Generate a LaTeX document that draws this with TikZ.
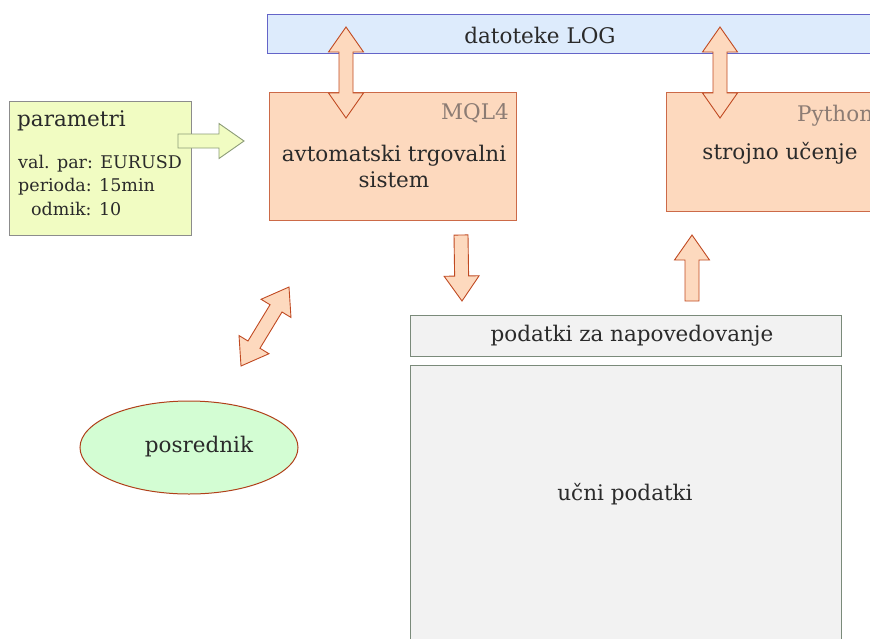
\documentclass[tikz,border=0pt]{standalone}
\usepackage{fontspec}
\setmainfont{DejaVu Serif}
\usetikzlibrary{calc,shapes.geometric}
\definecolor{logfill}{HTML}{DDEBFC}
\definecolor{logdraw}{HTML}{6464C8}
\definecolor{parfill}{HTML}{F1FCC2}
\definecolor{pardraw}{HTML}{8C8C8C}
\definecolor{parrdraw}{HTML}{8C9C78}
\definecolor{orfill}{HTML}{FDD9BE}
\definecolor{ordraw}{HTML}{CC6A48}
\definecolor{arrdraw}{HTML}{C04A22}
\definecolor{grfill}{HTML}{F2F2F2}
\definecolor{grdraw}{HTML}{7A8A7A}
\definecolor{elfill}{HTML}{D3FDD3}
\definecolor{eldraw}{HTML}{B0401A}
\definecolor{txt}{HTML}{2A2A2A}
\definecolor{lang}{HTML}{8C7C74}
\newcommand{\sglarrow}[3][]{%
  \coordinate (tmpH) at ($(#3)!25pt!(#2)$);
  \filldraw[#1] ($(#2)!7pt!90:(#3)$) -- ($(tmpH)!7pt!90:(#3)$) -- ($(tmpH)!17.5pt!90:(#3)$) -- (#3)
    -- ($(tmpH)!17.5pt!-90:(#3)$) -- ($(tmpH)!7pt!-90:(#3)$) -- ($(#2)!7pt!-90:(#3)$) -- cycle;}
\newcommand{\dblarrow}[3][]{%
  \coordinate (tmpHa) at ($(#2)!25pt!(#3)$);
  \coordinate (tmpHb) at ($(#3)!25pt!(#2)$);
  \filldraw[#1] (#2) -- ($(tmpHa)!17.5pt!90:(#3)$) -- ($(tmpHa)!7pt!90:(#3)$) -- ($(tmpHb)!7pt!90:(#3)$)
    -- ($(tmpHb)!17.5pt!90:(#3)$) -- (#3) -- ($(tmpHb)!17.5pt!-90:(#3)$) -- ($(tmpHb)!7pt!-90:(#3)$)
    -- ($(tmpHa)!7pt!-90:(#3)$) -- ($(tmpHa)!17.5pt!-90:(#3)$) -- cycle;}
\begin{document}
\begin{tikzpicture}[x=1pt,y=-1pt,
  font=\fontsize{21.5}{26}\selectfont,
  every node/.style={text=txt},
  rbox/.style={draw, line width=1pt, rectangle, inner sep=0pt},
  logbox/.style={rbox, fill=logfill, draw=logdraw},
  parbox/.style={rbox, fill=parfill, draw=pardraw},
  orbox/.style={rbox, fill=orfill, draw=ordraw},
  grbox/.style={rbox, fill=grfill, draw=grdraw},
  orarrow/.style={fill=orfill, draw=arrdraw, line width=0.9pt, line join=miter},
  yarrow/.style={fill=parfill, draw=parrdraw, line width=0.9pt, line join=miter},
  small/.style={font=\fontsize{17.5}{21}\selectfont, anchor=west, inner sep=0pt},
  langtxt/.style={text=lang}]
\useasboundingbox (0,0) rectangle (870,638);
\clip (0,0) rectangle (870,638);
% boxes
\node[logbox, minimum width=740, minimum height=39] (log) at (637,33.5) {};
\node (logT) at (540,35) {datoteke LOG};
\node[parbox, minimum width=182, minimum height=134] (par) at (100,168) {};
\node[anchor=west, inner sep=0pt] (parT) at (17,121) {parametri};
\node[small] (p1) at (18,164) {val. par: EURUSD};
\node[small] (p2) at (18,187) {perioda: 15min};
\node[small] (p3) at (31,209) {odmik: 10};
\node[orbox, minimum width=247, minimum height=128] (mql) at (392.5,156) {};
\node[langtxt] (mqlL) at (475,113) {MQL4};
\node[align=center] (mqlT) at (394,166) {avtomatski trgovalni\\sistem};
\node[orbox, minimum width=240, minimum height=119] (py) at (786,151.5) {};
\node[langtxt, anchor=west, inner sep=0pt] (pyL) at (797,116) {Python};
\node (pyT) at (780,153) {strojno učenje};
\node[grbox, minimum width=431, minimum height=41] (nap) at (625.5,335.5) {};
\node (napT) at (632,336) {podatki za napovedovanje};
\node[grbox, minimum width=431, minimum height=335] (ucni) at (625.5,532.5) {};
\node (ucniT) at (625,494) {učni podatki};
\node[ellipse, draw=eldraw, fill=elfill, line width=1pt, minimum width=218, minimum height=93, inner sep=0pt] (pos) at (189,447.5) {};
\node (posT) at (199,447) {posrednik};
% arrow end points
\coordinate (a1) at (178,141);
\coordinate (a2) at (244,141);
\coordinate (b1) at (346,27);
\coordinate (b2) at (346,118);
\coordinate (c1) at (720,27);
\coordinate (c2) at (720,118);
\coordinate (d1) at (461,235);
\coordinate (d2) at (462,301);
\coordinate (e1) at (692,301);
\coordinate (e2) at (692,235);
\coordinate (f1) at (241,366);
\coordinate (f2) at (289,287);
% block arrows
\sglarrow[yarrow]{a1}{a2}
\dblarrow[orarrow]{b1}{b2}
\dblarrow[orarrow]{c1}{c2}
\sglarrow[orarrow]{d1}{d2}
\sglarrow[orarrow]{e1}{e2}
\dblarrow[orarrow]{f1}{f2}
\end{tikzpicture}
\end{document}
